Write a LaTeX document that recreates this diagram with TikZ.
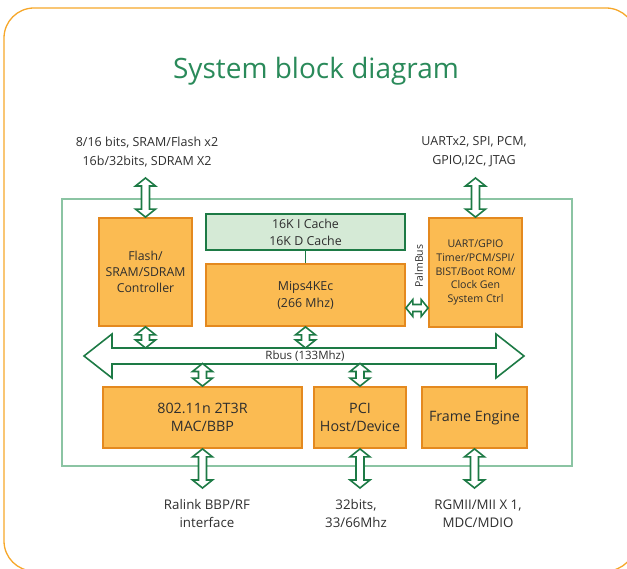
\documentclass[tikz,border=0pt]{standalone}
\usepackage{fontspec}
\setmainfont{Open Sans}
\usetikzlibrary{calc}
\definecolor{ofill}{HTML}{FBBB52}
\definecolor{oline}{HTML}{E4891F}
\definecolor{gdark}{HTML}{1D7A45}
\definecolor{gtitle}{HTML}{2A8A5A}
\definecolor{ginner}{HTML}{8BC4A3}
\definecolor{cfill}{HTML}{D5EAD6}
\definecolor{outer}{HTML}{F6A72A}
\definecolor{txt}{HTML}{2E2E2E}
\tikzset{
  blk/.style={draw=oline, fill=ofill, line width=1.8pt, text=txt, align=center, inner sep=0pt},
  cachebox/.style={draw=gdark, fill=cfill, line width=1.8pt, text=txt, align=center, inner sep=0pt},
  arr/.style={draw=gdark, fill=white, line width=1.6pt, line join=miter},
  lbl/.style={text=txt, align=center, inner sep=0pt},
}
% vertical double arrow between two points (top, bottom)
\newcommand\vdarr[2]{%
  \path[arr] let \p1=(#1), \p2=(#2) in
   (\x1,\y1) -- (\x1+10pt,\y1-8pt) -- (\x1+4pt,\y1-8pt) -- (\x1+4pt,\y2+8pt)
   -- (\x1+10pt,\y2+8pt) -- (\x1,\y2) -- (\x1-10pt,\y2+8pt) -- (\x1-4pt,\y2+8pt)
   -- (\x1-4pt,\y1-8pt) -- (\x1-10pt,\y1-8pt) -- cycle;}
% horizontal double arrow between two points (left, right)
\newcommand\hdarr[5]{% left, right, head half width, shaft half width, head length
  \path[arr] let \p1=(#1), \p2=(#2) in
   (\x1,\y1) -- (\x1+#5,\y1+#3) -- (\x1+#5,\y1+#4) -- (\x2-#5,\y1+#4)
   -- (\x2-#5,\y1+#3) -- (\x2,\y1) -- (\x2-#5,\y1-#3) -- (\x2-#5,\y1-#4)
   -- (\x1+#5,\y1-#4) -- (\x1+#5,\y1-#3) -- cycle;}
\begin{document}
\begin{tikzpicture}[x=1pt,y=-1pt]
\useasboundingbox (0,0) rectangle (627,569);
\begin{scope}
\clip (0,0) rectangle (627,569);
\draw[outer, line width=1.3pt, rounded corners=30pt] (4,8) rectangle (636,571);
\end{scope}

\node[anchor=base, text=gtitle, font=\fontsize{28}{32}\selectfont] (title) at (316,79) {System block diagram};

% inner frame
\draw[ginner, line width=1.2pt] (62,199) rectangle (572,466);

% blocks
\node[blk, minimum width=93pt, minimum height=108pt, font=\fontsize{12.3}{16}\selectfont] (flash) at (145.5,272) {Flash/\\SRAM/SDRAM\\Controller};
\node[cachebox, minimum width=199pt, minimum height=36pt, font=\fontsize{12.4}{17}\selectfont] (cache) at (305.5,232) {16K I Cache\\16K D Cache};
\node[blk, minimum width=199pt, minimum height=62pt, font=\fontsize{12.4}{17}\selectfont] (mips) at (305.5,295) {Mips4KEc\\(266 Mhz)};
\node[blk, minimum width=93pt, minimum height=109pt, font=\fontsize{10.6}{13.8}\selectfont] (uart) at (475.5,272.5) {UART/GPIO\\Timer/PCM/SPI/\\BIST/Boot ROM/\\Clock Gen\\System Ctrl};
\node[blk, minimum width=199pt, minimum height=61pt, font=\fontsize{14.3}{18}\selectfont] (wifi) at (202.5,417.5) {802.11n 2T3R\\MAC/BBP};
\node[blk, minimum width=92pt, minimum height=61pt, font=\fontsize{14.3}{18}\selectfont] (pci) at (360,417.5) {PCI\\Host/Device};
\node[blk, minimum width=105pt, minimum height=61pt, font=\fontsize{14.3}{18}\selectfont] (frame) at (474.5,417.5) {Frame Engine};

\draw[gdark, line width=1.8pt] (cache.south -| mips.north) -- (mips.north);

% labels
\node[lbl, font=\fontsize{12.5}{19}\selectfont] (memlbl) at (147,152) {8/16 bits, SRAM/Flash x2\\16b/32bits, SDRAM X2};
\node[lbl, font=\fontsize{12.5}{19}\selectfont] (iolbl) at (474,152) {UARTx2, SPI, PCM,\\GPIO,I2C, JTAG};
\node[lbl, font=\fontsize{13.3}{18}\selectfont] (rflbl) at (207,514) {Ralink BBP/RF\\interface};
\node[lbl, font=\fontsize{13.3}{18}\selectfont] (pcilbl) at (356,514) {32bits,\\33/66Mhz};
\node[lbl, font=\fontsize{13.3}{18}\selectfont] (ethlbl) at (478,514) {RGMII/MII X 1,\\MDC/MDIO};

% coordinates
\coordinate (memtop) at (flash.north |- 0,178);
\coordinate (iotop) at (uart.north |- 0,178);
\coordinate (rfbot) at (wifi.south |- 0,488);
\coordinate (pcibot) at (pci.south |- 0,488);
\coordinate (ethbot) at (frame.south |- 0,488);
\coordinate (busL) at (84,356);
\coordinate (busR) at (524,356);
\coordinate (busTop) at (0,348);
\coordinate (busBot) at (0,363.5);
\coordinate (palmL) at (mips.east |- 0,308);
\coordinate (palmR) at (uart.west |- 0,308);

% Rbus
\hdarr{busL}{busR}{22pt}{8pt}{28pt}
\node[lbl, font=\fontsize{11.5}{12}\selectfont] (rbus) at (305,356) {Rbus (133Mhz)};

% arrows
\vdarr{memtop}{flash.north}
\vdarr{iotop}{uart.north}
\vdarr{flash.south}{flash.south |- busTop}
\vdarr{mips.south}{mips.south |- busTop}
\vdarr{wifi.north |- busBot}{wifi.north}
\vdarr{pci.north |- busBot}{pci.north}
\vdarr{wifi.south}{rfbot}
\vdarr{pci.south}{pcibot}
\vdarr{frame.south}{ethbot}
\hdarr{palmL}{palmR}{8.5pt}{3.5pt}{7pt}
\node[lbl, rotate=90, font=\fontsize{10.5}{12}\selectfont] (palm) at (419,266) {PalmBus};
\end{tikzpicture}
\end{document}
